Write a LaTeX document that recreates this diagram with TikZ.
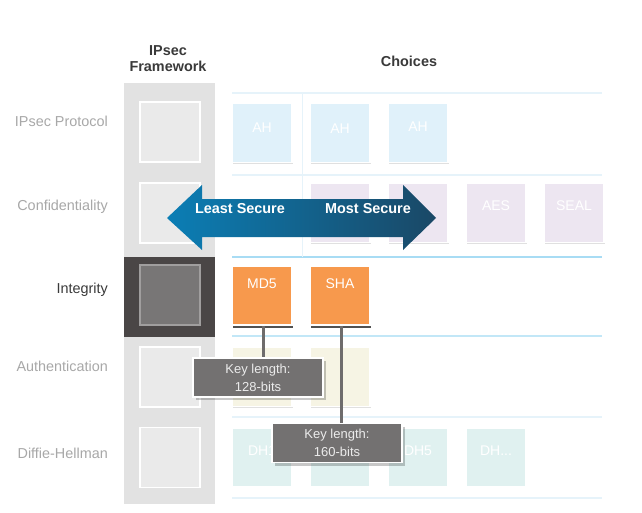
\documentclass[tikz,border=0pt]{standalone}
\usepackage{fontspec}
\setmainfont{Liberation Sans}
\usetikzlibrary{shadows}
\definecolor{colgray}{HTML}{E2E2E2}
\definecolor{fwfill}{HTML}{EAEAEA}
\definecolor{intdark}{HTML}{4A4646}
\definecolor{intinner}{HTML}{787676}
\definecolor{intborder}{HTML}{A09E9E}
\definecolor{lblgray}{HTML}{A8A8A8}
\definecolor{lbldark}{HTML}{3A3A3A}
\definecolor{gridfaint}{HTML}{E6F3FA}
\definecolor{gridstrong}{HTML}{A8DCF4}
\definecolor{ahfill}{HTML}{E0F1FA}
\definecolor{lavfill}{HTML}{EDE6F1}
\definecolor{beigefill}{HTML}{F6F4E4}
\definecolor{tealfill}{HTML}{E0F1F0}
\definecolor{orangefill}{HTML}{F7994D}
\definecolor{calloutfill}{HTML}{737171}
\definecolor{calloutline}{HTML}{6E6C6C}
\definecolor{arrowL}{HTML}{0B7EB5}
\definecolor{arrowR}{HTML}{1A4866}
\begin{document}
\begin{tikzpicture}[x=1pt,y=-1pt,
  lblfont/.style={font=\fontsize{14.4}{17}\selectfont},
  rowlbl/.style={lblfont, anchor=base east, text=lblgray, inner sep=0pt},
  hdr/.style={font=\bfseries\fontsize{14.4}{17}\selectfont, text=lbldark, anchor=base, inner sep=0pt},
  fwbox/.style={draw=white, line width=1.5pt, fill=fwfill, minimum width=60pt, minimum height=60pt, inner sep=0pt},
  choice/.style={draw=white, line width=1.5pt, minimum width=60pt, minimum height=59pt, inner sep=0pt,
     drop shadow={shadow xshift=1pt, shadow yshift=-1.2pt, opacity=0.12, fill=black}},
  orangebox/.style={draw=white, line width=1.5pt, fill=orangefill, minimum width=60pt, minimum height=59pt, inner sep=0pt,
     drop shadow={shadow xshift=0.5pt, shadow yshift=-3pt, opacity=0.85, fill=black!80}},
  boxtxt/.style={font=\fontsize{14}{17}\selectfont, text=white, anchor=base, inner sep=0pt},
  callout/.style={draw=white, line width=1.2pt, fill=calloutfill, text=white!92!black, minimum width=130pt, minimum height=39pt,
     inner sep=0pt, align=center, font=\fontsize{13}{18}\selectfont,
     drop shadow={shadow xshift=2.5pt, shadow yshift=-3pt, opacity=0.22, fill=black}},
  conn/.style={draw=calloutline, line width=3pt},
  arrtxt/.style={font=\bfseries\fontsize{14.4}{17}\selectfont, text=white, anchor=base, inner sep=0pt}
]
\useasboundingbox[fill=white] (0,0) rectangle (642,513);

% framework column
\fill[colgray] (124,83) rectangle (215,504);
\fill[intdark] (124,257) rectangle (215,337);

% grid lines
\foreach \yy in {93,175,417,498} \draw[gridfaint, line width=1.2pt] (232,\yy) -- (602,\yy);
\draw[gridstrong, line width=1.2pt] (232,257) -- (602,257);
\draw[gridstrong!70!white, line width=1.2pt] (232,336) -- (602,336);
\draw[gridfaint, line width=1pt] (302,93) -- (302,257);

% headers
\node[hdr] (h1) at (168,56) {IPsec};
\node[hdr] (h2) at (168,72) {Framework};
\node[hdr] (hc) at (409,67) {Choices};

% row labels
\node[rowlbl] (r1) at (108,127) {IPsec Protocol};
\node[rowlbl] (r2) at (108,211) {Confidentiality};
\node[rowlbl, text=lbldark] (r3) at (108,293) {Integrity};
\node[rowlbl] (r4) at (108,371) {Authentication};
\node[rowlbl] (r5) at (108,458) {Diffie-Hellman};

% framework squares
\node[fwbox] (f1) at (170,132) {};
\node[fwbox] (f2) at (170,213) {};
\node[fwbox, fill=intinner, draw=intborder] (f3) at (170,295) {};
\node[fwbox] (f4) at (170,377) {};
\node[fwbox] (f5) at (170,457.5) {};

% IPsec protocol row
\node[choice, fill=ahfill] (a1) at (262,133) {};
\node[choice, fill=ahfill] (a2) at (340,133) {};
\node[choice, fill=ahfill] (a3) at (418,133) {};
\node[boxtxt] (ta1) at (262,133) {AH};
\node[boxtxt] (ta2) at (340,134) {AH};
\node[boxtxt] (ta3) at (418,132) {AH};

% confidentiality row
\node[choice, fill=lavfill] (c2) at (340,213) {};
\node[choice, fill=lavfill] (c3) at (418,213) {};
\node[choice, fill=lavfill] (c4) at (496,213) {};
\node[choice, fill=lavfill] (c5) at (574,213) {};
\node[boxtxt] (tc4) at (496,211) {AES};
\node[boxtxt] (tc5) at (574,211) {SEAL};

% authentication row
\node[choice, fill=beigefill] (u1) at (262,377) {};
\node[choice, fill=beigefill] (u2) at (340,377) {};

% DH row
\node[choice, fill=tealfill] (d1) at (262,457.5) {};
\node[choice, fill=tealfill] (d2) at (340,457.5) {};
\node[choice, fill=tealfill] (d3) at (418,457.5) {};
\node[choice, fill=tealfill] (d4) at (496,457.5) {};
\node[boxtxt] (td1) at (262,455) {DH1};
\node[boxtxt] (td3) at (418,455) {DH5};
\node[boxtxt] (td4) at (496,455) {DH...};

% integrity row
\node[orangebox] (md5) at (262,295.5) {};
\node[orangebox] (sha) at (340,295.5) {};
\node[boxtxt] (tmd5) at (262,288) {MD5};
\node[boxtxt] (tsha) at (340,288) {SHA};

% double arrow
\shade[left color=arrowL, right color=arrowR]
  (167,218) -- (202,185) -- (202,199) -- (403,199) -- (403,185) -- (436,218)
  -- (403,250) -- (403,237) -- (202,237) -- (202,250) -- cycle;
\node[arrtxt] (least) at (240,214) {Least Secure};
\node[arrtxt] (most) at (368,214) {Most Secure};

% callouts
\node[callout] (k1) at (258,377.5) {Key length:\\128-bits};
\node[callout] (k2) at (337,443) {Key length:\\160-bits};
\draw[conn] ([xshift=1pt]md5.south) -- ([xshift=1pt]md5.south |- k1.north);
\draw[conn] ([xshift=1pt]sha.south) -- ([xshift=1pt]sha.south |- k2.north);
\end{tikzpicture}
\end{document}
